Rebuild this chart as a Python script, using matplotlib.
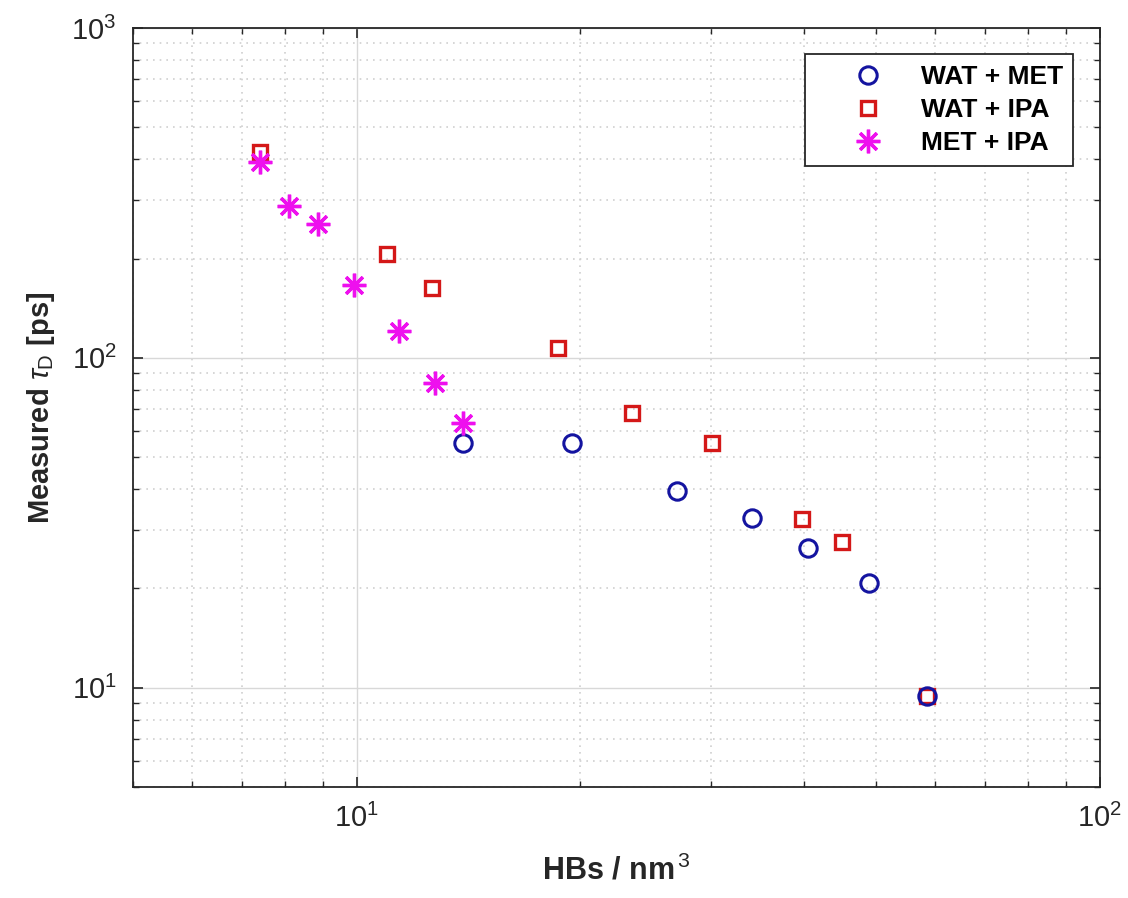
import matplotlib
matplotlib.use('Agg')
import matplotlib.pyplot as plt

plt.rcParams['font.family'] = ['Liberation Sans', 'DejaVu Sans']
plt.rcParams['mathtext.fontset'] = 'custom'
plt.rcParams['mathtext.rm'] = 'Liberation Sans'
plt.rcParams['mathtext.it'] = 'Liberation Sans:italic'
plt.rcParams['mathtext.bf'] = 'Liberation Sans:bold'

# --- data ---
wat_met_x = [13.9, 19.5, 27.0, 34.0, 40.5, 48.9, 58.5]
wat_met_y = [55.3, 55.3, 39.5, 32.7, 26.6, 20.7, 9.46]

wat_ipa_x = [7.40, 10.97, 12.62, 18.64, 23.45, 30.05, 39.7, 44.95, 58.5]
wat_ipa_y = [421, 206.6, 163, 107.2, 68.1, 55.3, 32.5, 27.7, 9.46]

met_ipa_x = [7.40, 8.10, 8.86, 9.91, 11.39, 12.73, 13.89]
met_ipa_y = [392, 288.8, 254.7, 166.4, 120.8, 84.0, 63.5]

fig = plt.figure(figsize=(11.28, 8.98), dpi=100)
ax = fig.add_axes([0.118, 0.1236, 0.857, 0.8452])

ax.plot(wat_ipa_x, wat_ipa_y, 's', markersize=10.5, markerfacecolor='none',
        markeredgecolor='#d41818', markeredgewidth=2.4, label='WAT + IPA', zorder=3)
ax.plot(met_ipa_x, met_ipa_y, linestyle='none', marker=(8, 2, 0), markersize=17,
        markeredgecolor='#ee10ee', markeredgewidth=2.4, label='MET + IPA', zorder=4)
ax.plot(wat_met_x, wat_met_y, 'o', markersize=12.5, markerfacecolor='none',
        markeredgecolor='#1414a0', markeredgewidth=2.2, label='WAT + MET', zorder=3)

ax.set_xscale('log')
ax.set_yscale('log')
ax.set_xlim(5, 100)
ax.set_ylim(5, 1000)

ax.grid(True, which='major', color='#d8d8d8', linestyle='-', linewidth=1.0)
ax.grid(True, which='minor', color='#d0d0d0', linestyle=(0, (1, 3)), linewidth=1.2)
ax.set_axisbelow(True)

ax.tick_params('both', which='major', direction='in', length=7, width=1.2,
               bottom=True, top=True, left=True, right=True, labelsize=21,
               colors='#262626', labelcolor='#262626', pad=12)
ax.tick_params('both', which='minor', direction='in', length=4, width=1,
               bottom=True, top=True, left=True, right=True, colors='#262626')
for s in ax.spines.values():
    s.set_color('#262626')
    s.set_linewidth(1.3)

ax.set_xlabel(r'HBs / nm$^{\,3}$', fontsize=22, fontweight='bold', color='#262626', labelpad=16)
ax.set_ylabel(r'Measured $\tau_{\rm D}$ [ps]', fontsize=21, fontweight='bold', color='#262626', labelpad=10)

h, l = ax.get_legend_handles_labels()
order = [2, 0, 1]
leg = ax.legend([h[i] for i in order], [l[i] for i in order], loc='upper right',
                numpoints=1, handlelength=4.0, handletextpad=0.0, borderaxespad=1.0,
                borderpad=0.4, labelspacing=0.35, fancybox=False, framealpha=1,
                prop={'size': 19, 'weight': 'bold'})
leg.get_frame().set_edgecolor('#262626')
leg.get_frame().set_linewidth(1.3)

plt.savefig('out.png', dpi=100)
plt.close()
